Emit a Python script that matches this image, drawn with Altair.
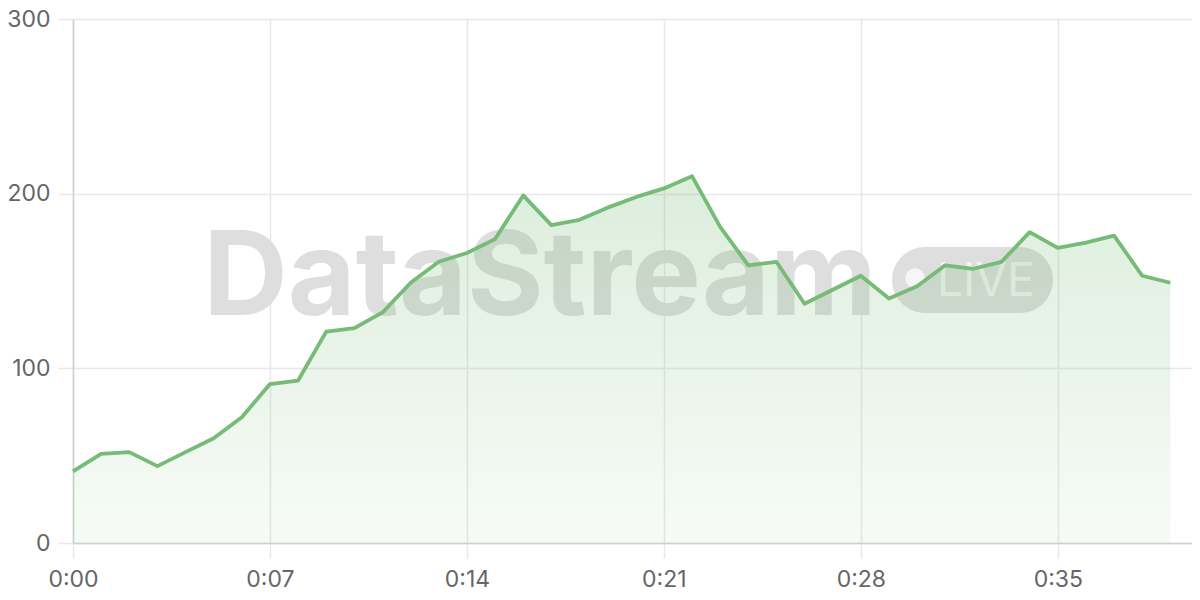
import altair as alt
import pandas as pd

minutes = list(range(40))
values = [41, 51, 52, 44, 52, 60, 72, 91, 93, 121,
          123, 132, 149, 161, 166, 174, 199, 182, 185, 192,
          198, 203, 210, 181, 159, 161, 137, 145, 153, 140,
          147, 159, 157, 161, 178, 169, 172, 176, 153, 149]
x_ticks = [0, 7, 14, 21, 28, 35]
y_ticks = [0, 100, 200, 300]

df = pd.DataFrame({"t": minutes, "v": values})

FONT = "Inter"
GREEN = "#76bb76"

x_enc = alt.X("t:Q", scale=alt.Scale(domain=[0, 39.77], nice=False, zero=False),
              axis=alt.Axis(values=x_ticks, title=None, labelFlush=False,
                            labelExpr="'0:' + (datum.value < 10 ? '0' : '') + datum.value",
                            grid=True, gridColor="#e8e8e8", gridWidth=1.5,
                            tickColor="#e8e8e8", tickWidth=1.5, tickSize=15,
                            domainColor="#d0d0d0", domainWidth=1.5,
                            labelFont=FONT, labelFontSize=23, labelColor="#666666",
                            labelPadding=10))
y_enc = alt.Y("v:Q", scale=alt.Scale(domain=[0, 300], nice=False),
              axis=alt.Axis(values=y_ticks, title=None, labelFlush=False,
                            grid=True, gridColor="#e8e8e8", gridWidth=1.5,
                            tickColor="#e8e8e8", tickWidth=1.5, tickSize=15,
                            domainColor="#d0d0d0", domainWidth=1.5,
                            labelFont=FONT, labelFontSize=23, labelColor="#666666",
                            labelPadding=8))

base = alt.Chart(df)

wm_text = alt.Chart(pd.DataFrame({"s": ["DataStream"]})).mark_text(
    font=FONT, fontSize=117, fontWeight="bold", color="#dedede",
    align="center", baseline="alphabetic"
).encode(x=alt.value(467), y=alt.value(296), text="s:N")

pill = alt.Chart(pd.DataFrame({"s": ["LIVE"]})).mark_rect(
    color="#dedede", cornerRadius=33
).encode(x=alt.value(819), x2=alt.value(980), y=alt.value(228), y2=alt.value(294))

dot = alt.Chart(pd.DataFrame({"s": ["LIVE"]})).mark_point(
    filled=True, color="#f6f6f6", size=380, opacity=1
).encode(x=alt.value(842), y=alt.value(259))

live = alt.Chart(pd.DataFrame({"s": ["LIVE"]})).mark_text(
    font=FONT, fontSize=46, fontWeight="normal", color="#f4f4f4",
    align="left", baseline="alphabetic"
).encode(x=alt.value(864), y=alt.value(277), text="s:N")

area = base.mark_area(
    color=alt.Gradient(
        gradient="linear",
        stops=[alt.GradientStop(color="rgba(116,185,116,0.06)", offset=0),
               alt.GradientStop(color="rgba(116,185,116,0.25)", offset=1)],
        x1=1, x2=1, y1=1, y2=0)
).encode(x=x_enc, y=y_enc)

line = base.mark_line(color=GREEN, strokeWidth=3.8, strokeJoin="round").encode(x=x_enc, y=y_enc)

chart = alt.layer(wm_text, pill, dot, live, area, line).properties(
    width=1119, height=524,
    autosize=alt.AutoSizeParams(type="none"),
    padding={"left": 65, "top": 11, "right": 0, "bottom": 49},
).configure_view(stroke=None).configure(background="white")

chart.save("out.html", embed_options={"renderer": "svg", "actions": False})
